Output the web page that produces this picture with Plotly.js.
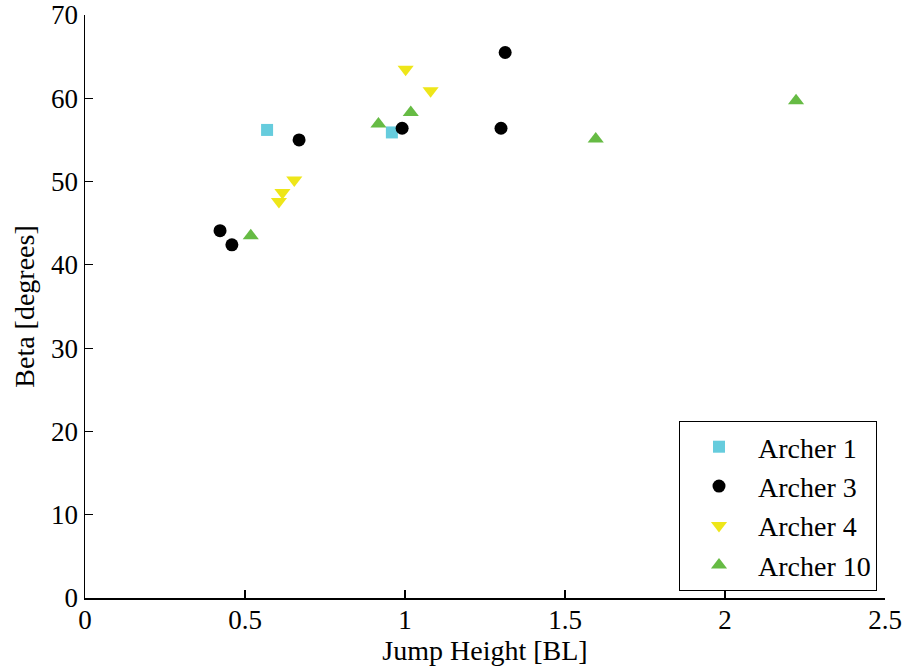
<!DOCTYPE html>
<html>
<head>
<meta charset="utf-8">
<script src="https://cdn.plot.ly/plotly-3.0.1.min.js"></script>
<style>html,body{margin:0;padding:0;background:#fff;}#chart{width:907px;height:667px;}</style>
</head>
<body>
<div id="chart"></div>
<script>
const archer1X = [0.569, 0.959];
const archer1Y = [56.2, 55.9];
const archer3X = [0.422, 0.459, 0.669, 0.991, 1.313, 1.300];
const archer3Y = [44.1, 42.4, 55.0, 56.4, 65.5, 56.4];
const archer4X = [1.002, 1.080, 0.654, 0.617, 0.606];
const archer4Y = [63.5, 60.9, 50.2, 48.7, 47.6];
const archer10X = [0.518, 0.917, 1.018, 1.596, 2.222];
const archer10Y = [43.5, 56.9, 58.3, 55.1, 59.7];
const xTicks = [0, 0.5, 1, 1.5, 2, 2.5];
const xTickLabels = ['0', '0.5', '1', '1.5', '2', '2.5'];
const yTicks = [0, 10, 20, 30, 40, 50, 60, 70];

const font = 'Liberation Serif, Times New Roman, serif';
const traces = [
  {x: archer1X, y: archer1Y, name: 'Archer 1', mode: 'markers', type: 'scatter',
   marker: {symbol: 'square', size: 12, color: '#66ccdd'}},
  {x: archer3X, y: archer3Y, name: 'Archer 3', mode: 'markers', type: 'scatter',
   marker: {symbol: 'circle', size: 13, color: '#000000'}},
  {x: archer4X, y: archer4Y, name: 'Archer 4', mode: 'markers', type: 'scatter',
   marker: {symbol: 'triangle-down', size: 14, color: '#eee619'}},
  {x: archer10X, y: archer10Y, name: 'Archer 10', mode: 'markers', type: 'scatter',
   marker: {symbol: 'triangle-up', size: 14, color: '#66bb44'}}
];
const axisCommon = {
  showgrid: false, zeroline: false, showline: true, linecolor: '#000', linewidth: 1.5,
  ticks: 'inside', ticklen: 8, tickwidth: 1.2, tickcolor: '#000', mirror: false,
  ticklabeloverflow: 'allow',
  tickfont: {family: font, size: 27, color: '#000'}
};
const layout = {
  width: 907, height: 667,
  margin: {l: 85, r: 22, t: 15, b: 69},
  paper_bgcolor: '#fff', plot_bgcolor: '#fff',
  font: {family: font, color: '#000'},
  xaxis: Object.assign({}, axisCommon, {
    range: [0, 2.5], tickvals: xTicks, ticktext: xTickLabels,
    ticklabelstandoff: -3,
    title: {text: 'Jump Height [BL]', font: {family: font, size: 28}, standoff: 0}
  }),
  yaxis: Object.assign({}, axisCommon, {
    range: [0, 70], tickvals: yTicks,
    title: {text: 'Beta [degrees]', font: {family: font, size: 28}, standoff: 8}
  }),
  showlegend: true,
  legend: {
    x: 0.99, xanchor: 'right', y: 0.012, yanchor: 'bottom',
    bordercolor: '#000', borderwidth: 1, bgcolor: '#fff',
    font: {family: font, size: 28, color: '#000'},
    itemwidth: 68
  }
};
Plotly.newPlot('chart', traces, layout, {displayModeBar: false, staticPlot: true});
</script>
</body>
</html>
